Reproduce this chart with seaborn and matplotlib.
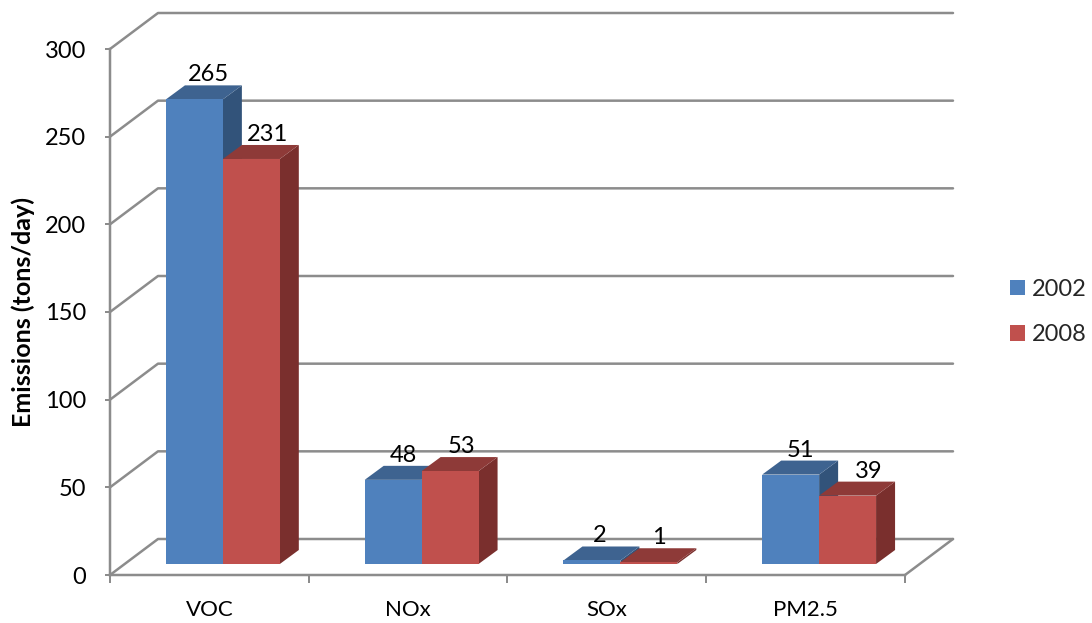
import matplotlib
matplotlib.use("Agg")
import matplotlib.pyplot as plt
import pandas as pd
import seaborn as sns

# datos
pollutants = ["VOC", "NOx", "SOx", "PM2.5"]
years = ["2002", "2008"]
values_2002 = [265, 48, 2, 51]
values_2008 = [231, 53, 1, 39]
y_ticks = [0, 50, 100, 150, 200, 250, 300]

df = pd.DataFrame({
    "Pollutant": pollutants * 2,
    "Year": [years[0]] * 4 + [years[1]] * 4,
    "Emissions": values_2002 + values_2008,
})

W, H = 1092, 623
FRONT, SIDE, TOP = ["#4F81BD", "#C0504D"], ["#32537A", "#7A2F2D"], ["#3E6390", "#8E3A38"]
GRAY = "#8C8C8C"
px = 0.72  # pixeles a puntos con dpi=100

sns.set_theme(style="white")
plt.rcParams["font.family"] = ["Lato", "DejaVu Sans"]

fig = plt.figure(figsize=(W / 100, H / 100), dpi=100)

# plano frontal: marco de los ejes
left, right, bottom, top = 110, 905, 575, 49
rect = [left / W, 1 - bottom / H, (right - left) / W, (bottom - top) / H]
ax = fig.add_axes(rect)
ax_bars = fig.add_axes([rect[0] + 13.5 / W, rect[1] + 11 / H, rect[2], rect[3]], facecolor="none")

xlim, ylim = (-0.5, 3.5), (0, 300)
x_unit = (right - left) / 4
y_unit = (bottom - top) / 300

# barras
sns.barplot(data=df, x="Pollutant", y="Emissions", hue="Year", palette=FRONT, saturation=1,
            width=0.573, gap=0, linewidth=0, ax=ax_bars)
ax_bars.set_xlim(xlim)
ax_bars.set_ylim(ylim)
ax_bars.axis("off")

# caras laterales y superiores de cada barra
dx, dy = 19 / x_unit, 14 / y_unit
nudges = [[14, 10, 8, 10], [16, 11, 10, 21]]
for s, container in enumerate(ax_bars.containers):
    for i, bar in enumerate(container):
        x0, w, h = bar.get_x(), bar.get_width(), bar.get_height()
        bar.set_zorder(3 + s)
        ax_bars.fill([x0, x0 + w, x0 + w + dx, x0 + dx], [h, h, h + dy, h + dy],
                     color=TOP[s], lw=0, zorder=2.8 + s, clip_on=False)
        ax_bars.fill([x0 + w, x0 + w + dx, x0 + w + dx, x0 + w], [0, dy, h + dy, h],
                     color=SIDE[s], lw=0, zorder=2.6 + s, clip_on=False)
        ax_bars.annotate(str(int(h)), (x0 + w / 2, h + dy), xytext=(nudges[s][i] * px, 4 * px),
                         textcoords="offset points", ha="center", va="baseline",
                         fontsize=17, color="black", zorder=6, annotation_clip=False)

sns.move_legend(ax_bars, "center left", bbox_to_anchor=(1010 / W, 1 - 312 / H),
                bbox_transform=fig.transFigure, frameon=False, title=None, fontsize=17,
                handlelength=0.635, handleheight=0.635, handletextpad=0.3, labelspacing=1.03,
                borderpad=0, borderaxespad=0)

# paredes: la rejilla va hacia atras desde el plano frontal
wall_dx, wall_dy = 48 / x_unit, 36 / y_unit
for v in y_ticks:
    ax.plot([xlim[0], xlim[0] + wall_dx, xlim[1] + wall_dx], [v, v + wall_dy, v + wall_dy],
            color=GRAY, lw=2.5 * px, clip_on=False, zorder=1)
ax.plot([xlim[1], xlim[1] + wall_dx], [0, wall_dy], color=GRAY, lw=2.5 * px, clip_on=False, zorder=1)

# ejes
ax.set_xlim(xlim)
ax.set_ylim(ylim)
ax.set_yticks(y_ticks)
ax.set_xticks(range(4))
ax.set_xticklabels(pollutants)
ax.set_xticks([-0.5, 0.5, 1.5, 2.5, 3.5], minor=True)
ax.tick_params(axis="x", which="major", length=0, pad=25 * px, labelsize=16, colors="black")
ax.tick_params(axis="x", which="minor", length=8 * px, width=2 * px, color=GRAY, bottom=True)
ax.tick_params(axis="y", length=5 * px, width=2 * px, color=GRAY, pad=19 * px, labelsize=17,
               labelcolor="black", left=True)
sns.despine(ax=ax, top=True, right=True)
for side in ["left", "bottom"]:
    ax.spines[side].set_color(GRAY)
    ax.spines[side].set_linewidth(2.5 * px)
ax.set_xlabel("")
ax.set_ylabel("Emissions (tons/day)", fontsize=18, fontweight="bold", color="black")
ax.yaxis.set_label_coords((35 - left) / (right - left), (bottom - 312) / (bottom - top))

fig.savefig("out.png", dpi=100, facecolor="white")
